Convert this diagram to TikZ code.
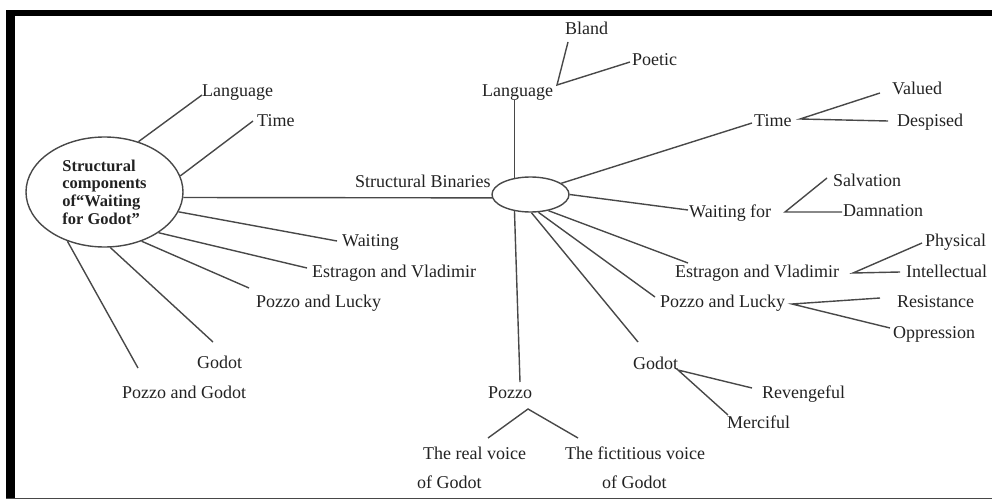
\documentclass[tikz,border=0pt]{standalone}
\usepackage{fontspec}
\setmainfont{Liberation Serif}
\usetikzlibrary{shapes.geometric}
\definecolor{txt}{HTML}{222222}
\definecolor{ln}{HTML}{484848}
\begin{document}
\begin{tikzpicture}[x=1pt,y=-1pt,
  lbl/.style={inner sep=0pt, anchor=base west, text=txt, font=\fontsize{18}{21}\selectfont},
  conn/.style={draw=ln, line width=1.4pt},
  oval/.style={draw=ln, line width=1.4pt, ellipse, inner sep=0pt}]
\useasboundingbox (0,0) rectangle (992,500);
% frame
\fill[black] (6,10) rectangle (992,16);
\fill[black] (6,10) rectangle (15,498);
\draw[ln, line width=1pt] (6,498.5) -- (992,498.5);

% ellipses
\node[oval, minimum width=157pt, minimum height=110pt, align=left, text=txt,
      font=\fontsize{16.5}{17.7}\selectfont\bfseries] (e1) at (104.5,192)
      {Structural\\components\\of“Waiting\\for Godot”};
\node[oval, minimum width=77pt, minimum height=35pt] (e2) at (530.5,194.5) {};

% left labels
\node[lbl] (langL) at (202,96) {Language};
\node[lbl] (timeL) at (257,126) {Time};
\node[lbl] (waitL) at (342,246) {Waiting};
\node[lbl] (evL) at (312,277) {Estragon and Vladimir};
\node[lbl] (plL) at (256,307) {Pozzo and Lucky};
\node[lbl] (godL) at (197,368) {Godot};
\node[lbl] (pgL) at (122,398) {Pozzo and Godot};

% right labels
\node[lbl] (sb) at (355,187) {Structural Binaries};
\node[lbl] (langM) at (482,96) {Language};
\node[lbl] (bland) at (565,35) {Bland};
\node[lbl] (poetic) at (632,66) {Poetic};
\node[lbl] (timeR) at (754,126) {Time};
\node[lbl] (valued) at (892,95) {Valued};
\node[lbl] (desp) at (897,126) {Despised};
\node[lbl] (wfR) at (689,217) {Waiting for};
\node[lbl] (salv) at (833,186) {Salvation};
\node[lbl] (damn) at (843,216) {Damnation};
\node[lbl] (evR) at (675,277) {Estragon and Vladimir};
\node[lbl] (phys) at (925,246) {Physical};
\node[lbl] (intel) at (906,277) {Intellectual};
\node[lbl] (plR) at (660,307) {Pozzo and Lucky};
\node[lbl] (res) at (897,307) {Resistance};
\node[lbl] (opp) at (893,338) {Oppression};
\node[lbl] (godR) at (633,369) {Godot};
\node[lbl] (rev) at (762,398) {Revengeful};
\node[lbl] (merc) at (727,428) {Merciful};
\node[lbl] (pozzo) at (488,398) {Pozzo};
\node[lbl] (real) at (423,459) {The real voice};
\node[lbl] (realb) at (417,488) {of Godot};
\node[lbl] (fict) at (565,459) {The fictitious voice};
\node[lbl] (fictb) at (602,488) {of Godot};

% left spokes
\draw[conn] (e1.56) -- ([yshift=1pt]langL.base west);
\draw[conn] (e1.12) -- ([xshift=-4pt,yshift=5pt]timeL.base west);
\draw[conn] (e1.-4) -- (e2.185);
\draw[conn] (e1.-15) -- ([xshift=-5pt,yshift=5pt]waitL.base west);
\draw[conn] (e1.-37) -- ([xshift=-5pt,yshift=9pt]evL.base west);
\draw[conn] (e1.-53) -- ([xshift=-7pt,yshift=19pt]plL.base west);
\draw[conn] (e1.-84) -- ([xshift=16pt,yshift=26pt]godL.base west);
\draw[conn] (e1.-127) -- ([xshift=16pt,yshift=30pt]pgL.base west);

% right spokes
\draw[conn] (e2.134) -- (e2.134 |- langM.south);
\draw[conn] (e2.20) -- ([xshift=-2pt,yshift=3pt]timeR.base west);
\draw[conn] (e2.east) -- ([xshift=-1pt,yshift=7pt]wfR.base west);
\draw[conn] (e2.-134) -- ([xshift=32pt,yshift=16pt]pozzo.base west);
\draw[conn] (e2.-87) -- ([xshift=5pt,yshift=27pt]godR.base west);
\draw[conn] (e2.-66) -- ([xshift=-5pt,yshift=10pt]plR.base west);
\draw[conn] (e2.-42) -- ([xshift=13pt,yshift=14pt]evR.base west);

% junctions
\coordinate (lj) at ([xshift=75pt,yshift=11pt]langM.base west);
\draw[conn] ([xshift=3pt,yshift=-7pt]bland.base west) -- (lj) -- ([xshift=-2pt,yshift=4pt]poetic.base west);
\coordinate (tj) at ([xshift=46pt,yshift=7pt]timeR.base west);
\draw[conn] ([xshift=-12pt,yshift=2pt]valued.base west) -- (tj) -- ([xshift=-9pt,yshift=5pt]desp.base west);
\coordinate (wj) at ([xshift=96pt,yshift=5pt]wfR.base west);
\draw[conn] ([xshift=-6pt,yshift=8pt]salv.base west) -- (wj) -- ([xshift=-1pt,yshift=4pt]damn.base west);
\coordinate (ej) at ([xshift=178pt,yshift=4pt]evR.base west);
\draw[conn] ([xshift=-3pt,yshift=3pt]phys.base west) -- (ej) -- ([xshift=-6pt,yshift=5pt]intel.base west);
\coordinate (pj) at ([xshift=132pt,yshift=3pt]plR.base west);
\draw[conn] ([xshift=-17pt,yshift=9pt]res.base west) -- (pj) -- ([xshift=-3pt,yshift=10pt]opp.base west);
\coordinate (gj) at ([xshift=45pt,yshift=-1pt]godR.base west);
\draw[conn] ([xshift=-10pt,yshift=10pt]rev.base west) -- (gj) -- ([xshift=1pt,yshift=13pt]merc.base west);
\coordinate (zj) at ([xshift=40pt,yshift=-11pt]pozzo.base west);
\draw[conn] ([xshift=65pt,yshift=21pt]real.base west) -- (zj) -- ([xshift=13pt,yshift=21pt]fict.base west);
\end{tikzpicture}
\end{document}
